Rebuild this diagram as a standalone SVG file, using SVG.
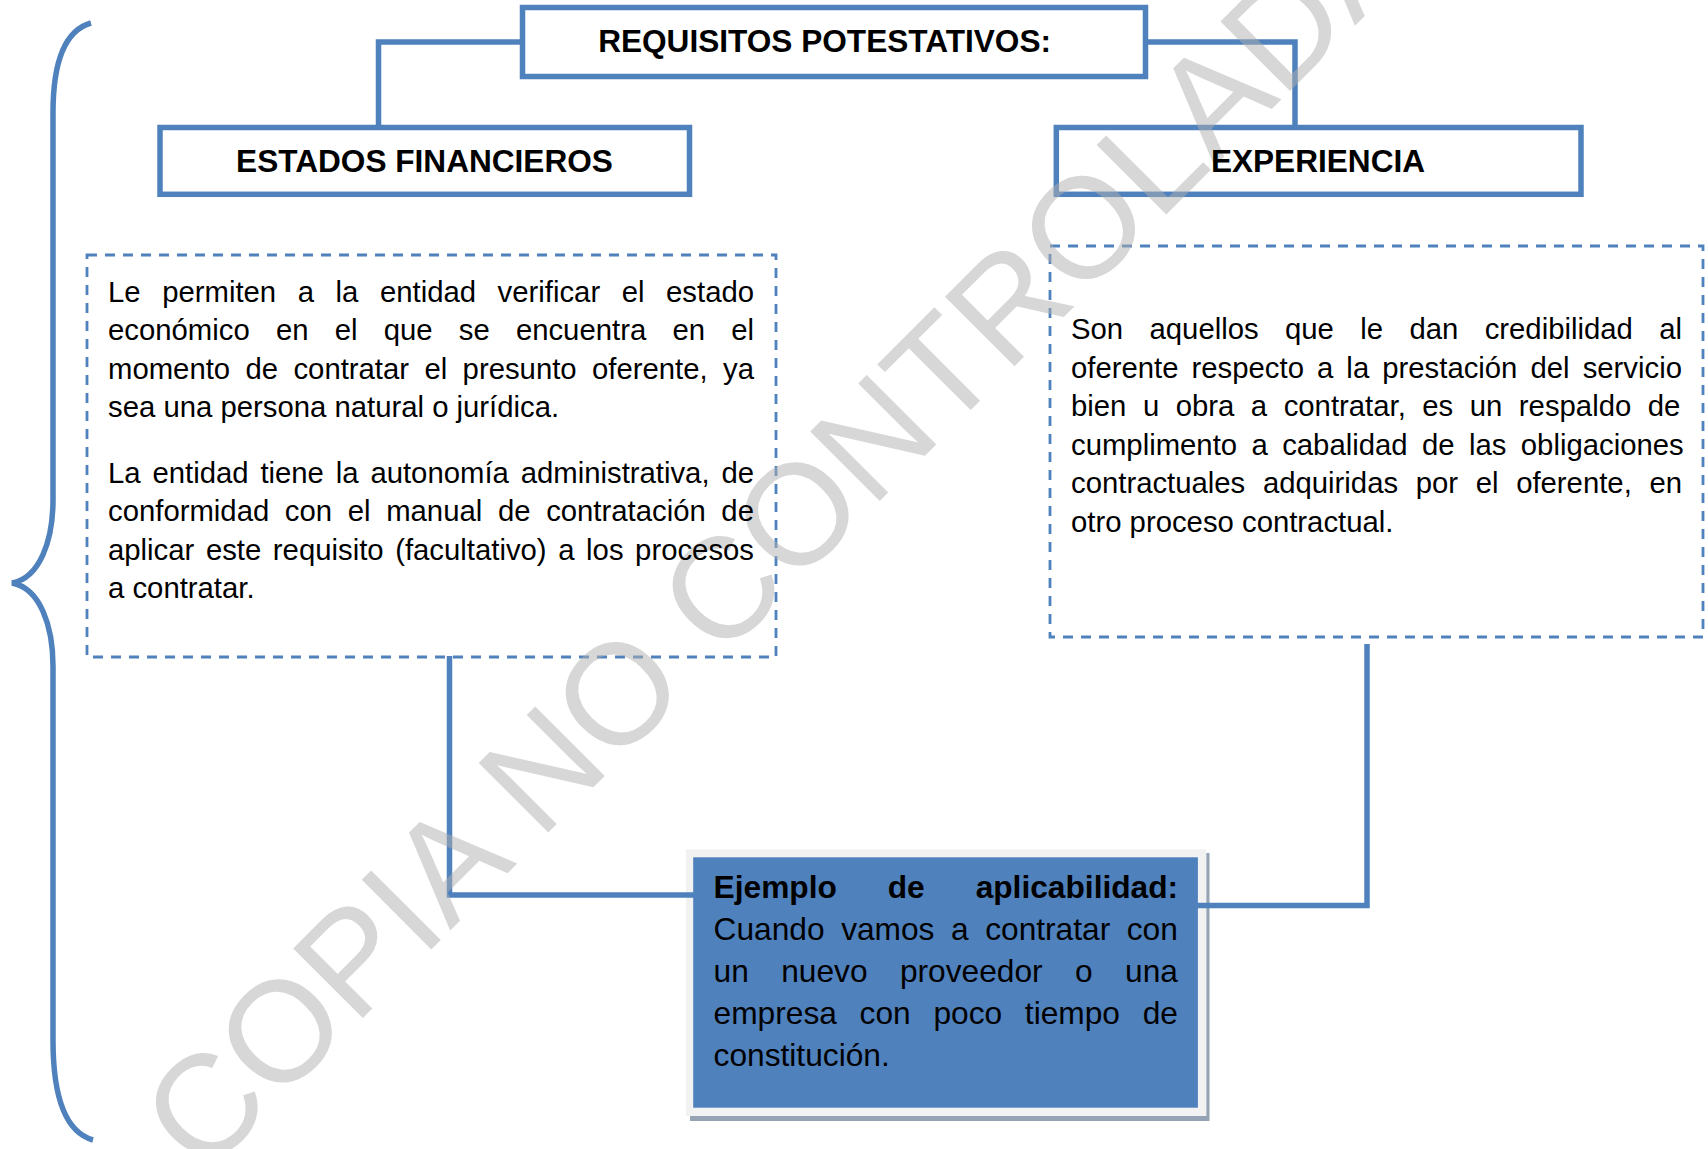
<svg xmlns="http://www.w3.org/2000/svg" width="1708" height="1149" viewBox="0 0 1708 1149">
<style>
.box{fill:none;stroke:#4f81bd;stroke-width:5.5}
.dash{fill:none;stroke:#4f81bd;stroke-width:2.8;stroke-dasharray:10 8}
.conn{fill:none;stroke:#4f81bd;stroke-width:5.5}
.h{font-family:"Liberation Sans",Arial,sans-serif;font-weight:bold;font-size:31.6px;text-anchor:middle;fill:#000}
.t{font-family:"Liberation Sans",Arial,sans-serif;font-size:29.3px;fill:#000}
.b{font-family:"Liberation Sans",Arial,sans-serif;font-size:31.7px;fill:#000}
.wm{font-family:"Liberation Sans",Arial,sans-serif;font-size:143px;fill:#b0b0b0;fill-opacity:0.5}
</style>
<rect width="1708" height="1149" fill="#fff"/>

<g id="brace">
<path class="conn" d="M 91 23 C 66 30 53 60 53 113 L 53 500 C 53 540 40 578 12 583 C 40 588 53 626 53 666 L 53 1040 C 53 1095 65 1132 93 1140"/>
</g>

<g id="node-requisitos">
<rect class="box" x="522.5" y="7.5" width="623" height="69"/>
</g>
<g id="node-estados">
<rect class="box" x="160" y="127.5" width="529.5" height="66.8"/>
</g>
<g id="node-experiencia">
<rect class="box" x="1056.3" y="127.5" width="524.7" height="66.8"/>
</g>
<g id="node-estados-desc">
<rect class="dash" x="87" y="255" width="689" height="402"/>
</g>
<g id="node-experiencia-desc">
<rect class="dash" x="1050" y="246" width="653" height="391"/>
</g>
<g id="node-ejemplo">
<rect x="690" y="853" width="519.5" height="268" fill="#95a3b5"/>
<rect x="686" y="849.3" width="520.4" height="266.7" fill="#f2f2f2"/>
<rect x="693.2" y="857.3" width="504.7" height="250.4" fill="#4f81bd"/>
</g>

<g id="connectors">
<path class="conn" d="M 522 42 L 378.5 42 L 378.5 126"/>
<path class="conn" d="M 1146 42 L 1295 42 L 1295 126"/>
<path class="conn" d="M 449.5 656 L 449.5 895 L 694 895"/>
<path class="conn" d="M 1197 905.5 L 1367 905.5 L 1367 644"/>
</g>

<g id="watermark">
<text class="wm" x="0" y="0" transform="translate(202.9,1177.9) rotate(-45)">COPIA NO CONTROLADA</text>
</g>

<g id="labels">
<text class="h" x="824.6" y="51.5">REQUISITOS POTESTATIVOS:</text>
<text class="h" x="424.5" y="171.7">ESTADOS FINANCIEROS</text>
<text class="h" x="1318" y="171.7">EXPERIENCIA</text>

<text class="t" x="108" y="301.5" word-spacing="13.42">Le permiten a la entidad verificar el estado</text>
<text class="t" x="108" y="340.1" word-spacing="18.06">económico en el que se encuentra en el</text>
<text class="t" x="108" y="378.7" word-spacing="7.23">momento de contratar el presunto oferente, ya</text>
<text class="t" x="108" y="417.3">sea una persona natural o jurídica.</text>
<text class="t" x="108" y="482.5" word-spacing="3.70">La entidad tiene la autonomía administrativa, de</text>
<text class="t" x="108" y="521.1" word-spacing="7.5">conformidad con el manual de contratación de</text>
<text class="t" x="108" y="559.7" word-spacing="3.45">aplicar este requisito (facultativo) a los procesos</text>
<text class="t" x="108" y="598.3">a contratar.</text>

<text class="t" x="1071" y="339" word-spacing="18.23">Son aquellos que le dan credibilidad al</text>
<text class="t" x="1071" y="377.6" word-spacing="4.93">oferente respecto a la prestación del servicio</text>
<text class="t" x="1071" y="416.2" word-spacing="8.37">bien u obra a contratar, es un respaldo de</text>
<text class="t" x="1071" y="454.8" word-spacing="6.25">cumplimento a cabalidad de las obligaciones</text>
<text class="t" x="1071" y="493.4" word-spacing="9.5">contractuales adquiridas por el oferente, en</text>
<text class="t" x="1071" y="532">otro proceso contractual.</text>

<text class="b" x="713.6" y="897.6" font-weight="bold" word-spacing="42.1">Ejemplo de aplicabilidad:</text>
<text class="b" x="713.6" y="939.8" word-spacing="7.74">Cuando vamos a contratar con</text>
<text class="b" x="713.6" y="982" word-spacing="23.58">un nuevo proveedor o una</text>
<text class="b" x="713.6" y="1024.2" word-spacing="13.91">empresa con poco tiempo de</text>
<text class="b" x="713.6" y="1066.4">constitución.</text>
</g>
</svg>
